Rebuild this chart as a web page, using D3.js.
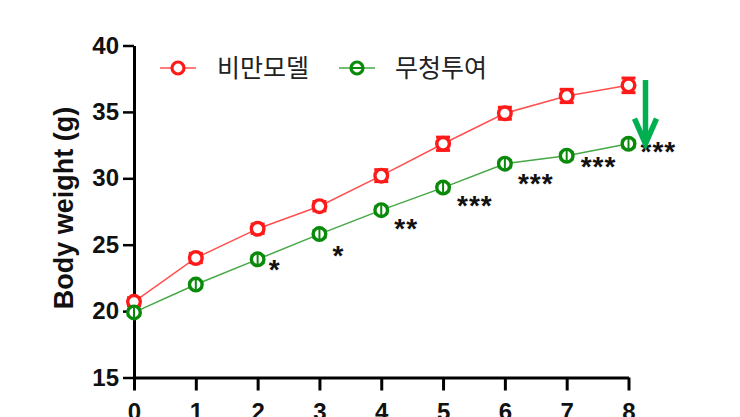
<!DOCTYPE html>
<html><head><meta charset="utf-8">
<script src="https://cdn.jsdelivr.net/npm/d3@7"></script>
<style>body{margin:0;background:#fff}svg{display:block}</style>
</head><body><svg id="c" width="740" height="417"></svg>
<script>
const weeks = [0,1,2,3,4,5,6,7,8];
const obeseMean = [20.7,24.0,26.2,27.9,30.2,32.6,34.9,36.2,37.0];
const obeseErr  = [0.3,0.35,0.35,0.35,0.45,0.5,0.45,0.5,0.55];
const treatMean = [19.9,22.0,23.9,25.8,27.6,29.3,31.1,31.7,32.6];
const treatErr  = [0.2,0.2,0.25,0.25,0.25,0.25,0.25,0.25,0.25];
const sigLabels = ["","","*","*","**","***","***","***","***"];
const yTicks = [15,20,25,30,35,40];
const seriesNames = ["비만모델","무청투여"];

const svg = d3.select("#c");
const x = d3.scaleLinear().domain([0,8]).range([134,628.5]);
const y = d3.scaleLinear().domain([15,40]).range([377.5,45.5]);
const red = "#ff1a1a", green = "#0a8a0a";
const font = "'Liberation Sans', Arial, sans-serif";

// axes
const ya = svg.append("g").attr("transform","translate(134,0)")
  .call(d3.axisLeft(y).tickValues(yTicks).tickSize(11).tickPadding(4).tickSizeOuter(0));
ya.select(".domain").attr("stroke","#000").attr("stroke-width",3);
ya.selectAll(".tick line").attr("stroke","#000").attr("stroke-width",2.5);
ya.selectAll(".tick text").attr("font-family",font).attr("font-weight","bold").attr("font-size","24px").attr("fill","#111");

const xa = svg.append("g").attr("transform","translate(0,377.5)")
  .call(d3.axisBottom(x).tickValues(weeks).tickSize(13).tickPadding(12).tickSizeOuter(0));
xa.select(".domain").attr("stroke","#000").attr("stroke-width",3);
xa.selectAll(".tick line").attr("stroke","#000").attr("stroke-width",3);
xa.selectAll(".tick text").attr("font-family",font).attr("font-weight","bold").attr("font-size","24px").attr("fill","#111");

svg.append("text").attr("transform","translate(73,208) rotate(-90)")
  .attr("text-anchor","middle").attr("font-family",font).attr("font-weight","bold")
  .attr("font-size","27px").attr("fill","#111").text("Body weight (g)");

function drawSeries(mean, err, color, lineColor){
  const pts = weeks.map((w,i)=>({x:w,m:mean[i],e:err[i]}));
  svg.append("path").datum(pts).attr("fill","none").attr("stroke",lineColor).attr("stroke-width",1.5)
    .attr("d", d3.line().x(d=>x(d.x)).y(d=>y(d.m)));
  const g = svg.append("g");
  pts.forEach(d=>{
    const cx = x(d.x), t = y(d.m+d.e), b = y(d.m-d.e);
    g.append("line").attr("x1",cx).attr("x2",cx).attr("y1",t).attr("y2",b).attr("stroke",color).attr("stroke-width",3);
    g.append("line").attr("x1",cx-7).attr("x2",cx+7).attr("y1",t).attr("y2",t).attr("stroke",color).attr("stroke-width",3);
    g.append("line").attr("x1",cx-7).attr("x2",cx+7).attr("y1",b).attr("y2",b).attr("stroke",color).attr("stroke-width",3);
    g.append("circle").attr("cx",cx).attr("cy",y(d.m)).attr("r",6.3).attr("fill","#fff").attr("stroke",color).attr("stroke-width",3.4);
    if (color===green){
      g.append("line").attr("x1",cx).attr("x2",cx).attr("y1",y(d.m)-5).attr("y2",y(d.m)+5).attr("stroke",color).attr("stroke-width",2);
    }
  });
}
drawSeries(obeseMean, obeseErr, red, "#ff5050");
drawSeries(treatMean, treatErr, green, "#45a845");

// significance (label placement offsets, in px, relative to each treated point)
const sigDx = [0,0,11,13,13,14,13,14,12];
const sigDy = [0,0,20,31,28,27,29,20,17];
svg.append("g").selectAll("text").data(weeks.filter((w,i)=>sigLabels[i]!==""))
  .join("text").attr("x",w=>x(w)+sigDx[w]).attr("y",w=>y(treatMean[w])+sigDy[w])
  .attr("font-family",font).attr("font-weight","bold").attr("font-size","28px")
  .attr("letter-spacing","1px").attr("fill","#111")
  .text(w=>sigLabels[w]);

// arrow
const ax = x(8)+17;
svg.append("line").attr("x1",ax).attr("x2",ax).attr("y1",y(37.4)).attr("y2",y(32.9)).attr("stroke","#00b050").attr("stroke-width",5.5);
svg.append("path").attr("fill","none").attr("stroke","#00b050").attr("stroke-width",5.5).attr("stroke-linejoin","miter")
  .attr("d",`M${ax-11},${y(34.5)} L${ax},${y(32.6)} L${ax+11},${y(34.5)}`);

// legend
const legend = svg.append("g");
[[178,red,"#ff5050",217],[357,green,"#45a845",395]].forEach((L,i)=>{
  const cy = 68;
  legend.append("line").attr("x1",L[0]-18).attr("x2",L[0]+18).attr("y1",cy).attr("y2",cy).attr("stroke",L[2]).attr("stroke-width",1.5);
  legend.append("circle").attr("cx",L[0]).attr("cy",cy).attr("r",6).attr("fill","#fff").attr("stroke",L[1]).attr("stroke-width",3.2);
  if(i===1) legend.append("line").attr("x1",L[0]-5).attr("x2",L[0]+5).attr("y1",cy).attr("y2",cy).attr("stroke",L[1]).attr("stroke-width",2);
  legend.append("text").attr("x",L[3]).attr("y",cy+9).attr("font-family","'Noto Sans CJK KR', sans-serif")
    .attr("font-size","25px").attr("fill","#222").text(seriesNames[i]);
});
</script></body></html>
